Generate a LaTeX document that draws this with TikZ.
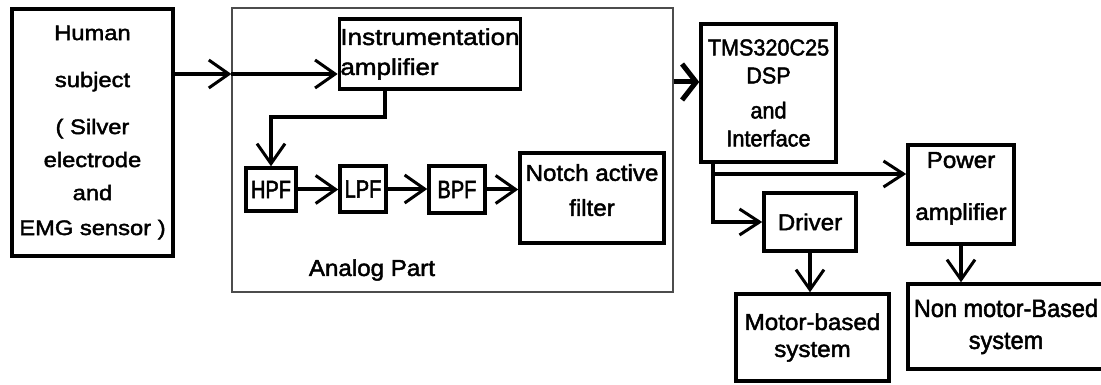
\documentclass[tikz,border=0pt]{standalone}
\usepackage{fontspec}
\setmainfont[FakeStretch=1.05,FakeBold=2]{Liberation Sans}
\newfontfamily\widefont[FakeStretch=1.13,FakeBold=2]{Liberation Sans}
\newfontfamily\narrowfont[FakeStretch=0.8,FakeBold=2]{Liberation Sans}
\newfontfamily\plainfont[FakeStretch=0.94,FakeBold=2]{Liberation Sans}
\newcommand\dropby[1]{\rule[-#1]{0pt}{0pt}}
\usetikzlibrary{arrows.meta}
\tikzset{
  blk/.style={draw, line width=3.5pt, inner sep=1pt, align=center},
  flow/.style={line width=4pt, -{Straight Barb[length=20pt,width=28pt,line width=3pt]}},
  thinflow/.style={line width=3.5pt, -{Straight Barb[length=20pt,width=26pt,line width=3pt]}},
  bigflow/.style={line width=5pt, -{Straight Barb[length=14pt,width=36pt,line width=5pt]}},
}
\begin{document}
\begin{tikzpicture}[x=1pt,y=-1pt,font=\fontsize{23}{30}\selectfont]
  \useasboundingbox (0,0) rectangle (1101,385);
  % analog stage frame
  \node[draw=black!70, line width=1.2pt, minimum width=441, minimum height=284] (analog) at (452.5,150) {};
  \node (analogpart) at (372,270) {Analog Part};
  % blocks
  \node[blk, minimum width=161, minimum height=247, font=\widefont\fontsize{21}{33}\selectfont] (human) at (92.5,132.5)
    {Human\\[14pt] subject\\[14pt] ( Silver\\ electrode\\ and\\[2pt] EMG sensor )};
  \node[blk, align=left, minimum width=176, minimum height=70, font=\widefont\fontsize{23}{30}\selectfont] (instr) at (430,54)
    {Instrumentation\\ amplifier};
  \node[blk, minimum width=50, minimum height=43, font=\narrowfont\fontsize{25}{30}\selectfont] (hpf) at (271,189.5) {HPF};
  \node[blk, minimum width=46, minimum height=46, font=\narrowfont\fontsize{25}{30}\selectfont] (lpf) at (363,189) {LPF};
  \node[blk, minimum width=56, minimum height=47, font=\narrowfont\fontsize{25}{30}\selectfont] (bpf) at (457,189.5) {BPF};
  \node[blk, minimum width=144, minimum height=90] (notch) at (592,198)
    {Notch active\\[5pt] filter\dropby{16pt}};
  \node[blk, minimum width=135, minimum height=138, font=\plainfont\fontsize{23}{28}\selectfont] (dsp) at (768.5,93)
    {TMS320C25\\ DSP\\[7pt] and\\ Interface};
  \node[blk, minimum width=92, minimum height=58] (driver) at (810,222) {Driver};
  \node[blk, minimum width=106, minimum height=99] (power) at (961,194.5)
    {Power\\[22pt] amplifier\dropby{17pt}};
  \node[blk, minimum width=153, minimum height=87] (motor) at (812.5,337.5)
    {Motor-based\\[-3pt] system};
  \node[blk, minimum width=196, minimum height=85, font=\plainfont\fontsize{25}{32}\selectfont] (nonmotor) at (1006,326.5)
    {Non motor-Based\\ system};
  % signal path
  \coordinate (inA) at (analog.west |- 0,74);
  \draw[flow] (human.east |- inA) -- (inA);
  \draw[flow] (inA) -- (instr.west |- inA);
  \coordinate (drop) at (385,117);
  \draw[flow] (instr.south -| drop) -- (drop) -| (hpf.north);
  \draw[flow] (hpf.east) -- (lpf.west |- hpf.east);
  \draw[flow] (lpf.east) -- (bpf.west |- lpf.east);
  \draw[flow] (bpf.east) -- (notch.west |- bpf.east);
  \coordinate (outA) at (analog.east |- 0,82);
  \draw[bigflow] (outA) -- (dsp.west |- outA);
  % outputs
  \coordinate (tap) at (713,174);
  \draw[thinflow] (dsp.south -| tap) |- (driver.west);
  \draw[thinflow] (tap) -- (power.west |- tap);
  \draw[flow] (driver.south) -- (motor.north -| driver.south);
  \draw[flow] (power.south) -- (nonmotor.north -| power.south);
\end{tikzpicture}
\end{document}
